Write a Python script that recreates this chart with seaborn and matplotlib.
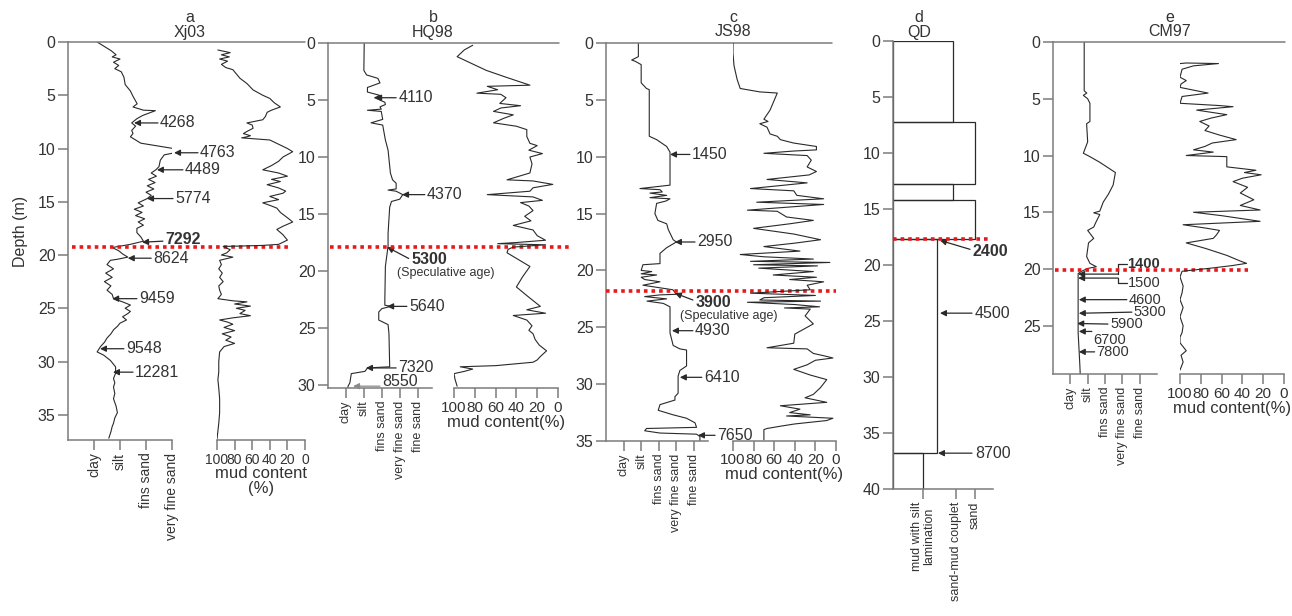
import numpy as np
import pandas as pd
import matplotlib
matplotlib.use("Agg")
import matplotlib.pyplot as plt
import seaborn as sns

# ---------------------------------------------------------------- data
# Grain-size curves: depth (m) and grain-size class position
# (1 = clay, 2 = silt, 3 = fins sand, 4 = very fine sand, 5 = fine sand)
XJ03_GRAIN_DEPTH = [0, 0.5, 0.8, 1.2, 1.4, 1.6, 1.9, 2.2, 2.5, 2.8, 3.3, 4.0, 4.6, 5.1, 5.8, 6.1,
                    6.4, 6.45, 6.9, 7.2, 7.6, 7.9, 8.3, 8.6, 8.9, 9.2, 9.5, 9.8, 10.1, 10.4, 10.6,
                    11.1, 11.7, 12.0, 12.3, 12.6, 12.9, 13.2, 13.5, 13.8, 14.1, 14.4, 14.7, 15.1,
                    15.4, 15.7, 16.0, 16.3, 16.6, 16.9, 17.2, 17.5, 17.9, 18.3, 18.7, 19.0, 19.3,
                    19.6, 19.9, 20.2, 20.4, 20.5, 20.9, 21.3, 21.7, 22.1, 22.5, 22.9, 23.3, 23.7,
                    24.1, 24.4, 24.7, 25.0, 25.3, 25.5, 25.8, 26.1, 26.4, 26.7, 27.0, 27.4, 27.8,
                    28.2, 28.6, 29.1, 29.4, 29.9, 30.5, 31.1, 31.6, 32.0, 32.4, 33.0, 33.5, 34.2,
                    34.8, 35.3, 35.8, 36.1, 36.6, 37.2]
XJ03_GRAIN_SIZE = [1.12, 1.45, 1.65, 1.85, 1.7, 2.0, 1.75, 1.95, 1.8, 2.05, 2.15, 2.2, 2.4, 2.5, 2.66,
                   2.5, 2.9, 3.36, 2.87, 2.65, 2.45, 2.6, 2.45, 2.5, 2.4, 2.6, 2.8, 3.55, 4.3, 4.1,
                   3.7, 3.55, 3.5, 3.38, 3.2, 3.4, 3.1, 3.35, 3.05, 3.3, 3.0, 3.2, 3.05, 2.7, 2.9,
                   2.55, 2.85, 2.6, 2.95, 2.7, 2.9, 2.65, 2.65, 2.8, 2.9, 2.4, 1.7, 1.95, 2.1, 2.3,
                   1.9, 1.63, 1.5, 1.75, 1.45, 1.7, 1.4, 1.65, 1.5, 1.7, 1.75, 2.1, 2.4, 2.2, 2.4,
                   2.3, 2.1, 2.25, 2.0, 1.9, 1.76, 1.65, 1.5, 1.4, 1.25, 1.12, 1.37, 1.63, 1.83,
                   1.83, 1.75, 1.8, 1.75, 1.8, 1.75, 1.85, 1.9, 1.8, 1.75, 1.7, 1.65, 1.57]
XJ03_MUD_DEPTH = [0.75, 1.0, 1.2, 1.4, 1.6, 1.8, 2.1, 2.4, 2.6, 3.0, 3.4, 3.9, 4.5, 5.0, 5.3, 5.7,
                  6.1, 6.4, 6.6, 7.0, 7.3, 7.6, 7.8, 8.1, 8.4, 8.6, 8.8, 8.9, 9.0, 9.2, 9.6, 10.0,
                  10.3, 10.8, 11.2, 11.6, 12.0, 12.3, 12.6, 12.9, 13.1, 13.4, 13.7, 14.0, 14.2,
                  14.5, 14.8, 15.1, 15.4, 15.6, 16.0, 16.5, 16.9, 17.3, 17.6, 18.1, 18.6, 19.0,
                  19.1, 19.2, 19.5, 19.8, 20.0, 20.2, 20.5, 20.9, 21.3, 21.7, 22.1, 22.5, 22.9,
                  23.3, 23.7, 24.1, 24.3, 24.4, 24.6, 24.8, 25.0, 25.2, 25.5, 25.7, 25.9, 26.1,
                  26.3, 26.5, 26.8, 27.1, 27.4, 27.7, 28.0, 28.3, 28.6, 29.1, 30.0, 31.0, 31.7,
                  32.5, 33.5, 34.8, 35.8, 37.3]
XJ03_MUD_PCT = [99, 85, 95, 86, 97, 88, 95, 90, 82, 78, 74, 66, 59, 48, 40, 35, 28, 38, 43, 45, 48,
                66, 60, 59, 66, 70, 62, 66, 72, 40, 30, 20, 14, 25, 30, 38, 48, 30, 20, 38, 28, 43,
                30, 22, 25, 40, 30, 48, 38, 32, 28, 20, 14, 25, 32, 25, 20, 30, 48, 93, 85, 89,
                95, 82, 97, 95, 98, 94, 97, 93, 98, 97, 95, 99, 82, 66, 80, 62, 78, 68, 74, 62,
                82, 97, 88, 82, 92, 80, 94, 84, 90, 80, 92, 97, 98, 98, 99, 98, 97, 97, 98, 100]

HQ98_GRAIN_DEPTH = [0, 2.4, 2.8, 3.1, 3.5, 3.9, 4.3, 4.6, 4.8, 5.2, 5.4, 5.6, 5.8, 5.9, 6.0, 6.7,
                    7.0, 7.2, 8.5, 9.4, 11.4, 12.0, 12.3, 12.8, 12.9, 13.0, 13.3, 13.7, 13.9, 14.4,
                    16.7, 17.8, 19.6, 22.5, 23.0, 23.1, 23.3, 23.6, 24.3, 24.7, 25.5, 28.4, 28.5,
                    28.8, 29.0, 29.8, 30.1, 30.25]
HQ98_GRAIN_SIZE = [2.02, 2.0, 2.15, 2.78, 2.9, 2.2, 2.2, 2.9, 2.6, 3.17, 3.2, 2.9, 2.97, 2.2, 2.97,
                   3.05, 2.4, 3.05, 3.2, 3.35, 3.48, 3.6, 3.8, 3.8, 3.35, 3.8, 4.17, 4.0, 3.54,
                   3.44, 3.35, 3.35, 3.2, 3.17, 3.17, 3.5, 3.0, 2.83, 2.83, 3.35, 3.4, 3.44, 2.2,
                   2.06, 1.3, 1.22, 1.12, 1.1]
HQ98_MUD_DEPTH = [0.2, 0.6, 1.2, 1.8, 2.4, 3.0, 3.7, 3.8, 4.1, 4.4, 4.5, 4.8, 5.3, 5.5, 5.7, 6.0,
                  6.3, 6.6, 7.0, 7.3, 7.6, 8.2, 8.8, 9.0, 9.4, 9.7, 10.0, 10.6, 11.4, 12.0, 12.1,
                  12.4, 12.7, 13.0, 13.3, 13.5, 13.8, 14.0, 14.3, 14.7, 15.2, 15.6, 16.0, 16.4,
                  16.9, 17.3, 17.5, 17.6, 17.7, 17.9, 18.1, 18.4, 19.0, 19.6, 20.5, 21.4, 22.3,
                  23.1, 23.4, 23.7, 23.9, 24.3, 24.8, 25.2, 25.5, 26.0, 26.5, 27.0, 27.5, 27.8,
                  28.0, 28.3, 28.4, 28.6, 28.8, 29.0, 29.5, 30.1]
HQ98_MUD_PCT = [82, 90, 97, 83, 69, 50, 27, 68, 58, 78, 55, 50, 56, 36, 55, 62, 43, 52, 62, 40, 30,
                30, 27, 20, 28, 15, 27, 25, 27, 49, 24, 5, 24, 27, 68, 24, 15, 36, 28, 24, 32, 26,
                43, 24, 20, 12, 40, 58, 12, 43, 48, 49, 38, 27, 34, 40, 28, 17, 30, 12, 43, 30,
                25, 28, 24, 22, 18, 11, 17, 20, 24, 60, 94, 82, 90, 100, 99, 97]

JS98_GRAIN_DEPTH = [0, 1.2, 1.5, 1.6, 1.9, 3.5, 4.0, 4.1, 8.2, 8.5, 9.1, 9.6, 12.5, 12.6, 12.8,
                    12.9, 13.1, 13.2, 13.4, 13.6, 13.7, 13.9, 14.1, 15.0, 15.6, 15.9, 16.4, 17.3,
                    17.5, 18.0, 18.5, 19.4, 19.5, 20.0, 20.1, 20.3, 20.4, 20.6, 20.8, 21.0, 21.3,
                    21.7, 22.1, 22.15, 22.3, 22.5, 22.7, 22.9, 23.2, 25.5, 26.6, 26.9, 27.0, 28.4,
                    28.8, 29.3, 30.8, 31.1, 31.4, 31.8, 32.3, 32.7, 33.0, 33.4, 33.8, 33.9, 34.1,
                    34.3, 34.4, 34.6, 35.0]
JS98_GRAIN_SIZE = [1.84, 1.84, 1.46, 1.65, 2.0, 2.0, 2.3, 2.46, 2.46, 2.88, 3.45, 3.64, 3.64, 3.07,
                   1.93, 3.07, 3.2, 2.5, 3.45, 2.5, 3.64, 3.4, 2.88, 2.78, 2.95, 3.45, 3.54, 3.82,
                   4.0, 3.45, 3.07, 3.07, 2.1, 2.0, 2.6, 2.0, 2.88, 2.0, 2.2, 3.07, 2.1, 3.8, 4.0,
                   3.07, 2.2, 3.45, 2.33, 3.26, 3.64, 3.64, 3.82, 4.2, 4.58, 4.58, 4.2, 4.1, 4.1,
                   3.92, 3.92, 3.07, 2.97, 3.82, 4.58, 5.06, 5.15, 2.3, 2.2, 3.07, 5.15, 5.34, 5.34]
JS98_MUD_DEPTH = [0, 0.9, 2.0, 3.2, 4.0, 4.3, 4.4, 5.9, 6.7, 6.9, 7.1, 7.4, 8.0, 8.2, 8.5, 8.8,
                  9.1, 9.4, 9.5, 9.7, 9.9, 10.3, 10.9, 11.3, 11.6, 12.0, 12.3, 12.8, 13.0, 13.4,
                  13.7, 14.0, 14.2, 14.7, 14.8, 15.3, 15.6, 15.9, 16.3, 16.8, 17.3, 17.6, 17.9,
                  18.3, 18.6, 18.8, 19.0, 19.2, 19.3, 19.5, 19.6, 19.8, 20.1, 20.4, 20.6, 20.8,
                  21.0, 21.3, 21.7, 22.0, 22.2, 22.4, 22.6, 22.7, 22.8, 23.0, 23.2, 23.3, 23.4,
                  24.0, 24.7, 25.0, 25.6, 26.4, 26.8, 26.9, 27.3, 27.5, 27.7, 27.9, 28.3, 28.7,
                  29.2, 29.6, 30.3, 30.9, 31.2, 31.6, 31.9, 32.2, 32.5, 32.7, 32.8, 33.0, 33.2,
                  33.5, 33.7, 33.9, 34.0, 34.9]
JS98_MUD_PCT = [100, 100, 99, 96, 93, 74, 57, 64, 70, 66, 74, 67, 64, 57, 54, 41, 19, 19, 41, 70,
                28, 24, 28, 19, 26, 67, 28, 83, 41, 38, 12, 77, 12, 86, 57, 48, 22, 45, 80, 41,
                15, 40, 70, 35, 93, 70, 22, 83, 6, 80, 18, 75, 22, 61, 19, 45, 12, 28, 25, 83,
                20, 70, 74, 15, 86, 40, 16, 50, 25, 30, 22, 28, 40, 41, 67, 28, 22, 12, 3, 20,
                28, 41, 25, 9, 15, 22, 30, 9, 54, 35, 45, 25, 48, 3, 9, 40, 54, 67, 70, 70]

CM97_GRAIN_DEPTH = [0, 4.3, 4.5, 4.7, 5.0, 5.4, 7.0, 7.2, 8.8, 9.8, 10.1, 10.6, 11.2, 11.5, 12.6,
                    13.4, 14.1, 14.9, 15.05, 15.2, 15.8, 16.3, 16.6, 17.0, 17.3, 17.7, 18.9, 19.5,
                    19.8, 19.95, 20.2, 20.4, 25.6, 28.5, 29.25]
CM97_GRAIN_SIZE = [1.8, 1.8, 1.95, 1.75, 2.0, 2.13, 2.13, 1.94, 2.0, 1.75, 2.13, 2.7, 3.3, 3.6,
                   3.47, 3.2, 2.9, 2.7, 2.35, 2.7, 2.5, 2.35, 2.0, 2.2, 2.35, 2.05, 1.94, 2.13,
                   2.5, 2.0, 1.65, 1.45, 1.45, 1.55, 1.57]
CM97_MUD_DEPTH = [1.9, 1.85, 1.9, 2.1, 2.4, 3.1, 3.4, 3.7, 4.0, 4.5, 4.8, 5.4, 5.6, 5.7, 6.0, 6.4,
                  6.7, 7.0, 7.4, 7.8, 8.2, 8.6, 8.9, 9.2, 9.5, 9.7, 10.0, 10.1, 11.0, 11.3, 11.5,
                  11.7, 12.0, 12.3, 12.8, 13.3, 13.9, 14.4, 14.8, 15.0, 15.3, 15.8, 16.1, 16.4,
                  16.6, 17.0, 17.3, 17.7, 18.2, 18.8, 19.3, 19.5, 19.7, 19.9, 20.2, 20.7, 21.5,
                  22.1, 22.7, 23.4, 24.2, 25.0, 25.6, 26.0, 26.5, 27.2, 27.6, 28.2, 28.9]
CM97_MUD_PCT = [100, 94, 63, 87, 98, 100, 94, 99, 100, 73, 98, 100, 62, 49, 84, 55, 70, 81, 72, 76,
                62, 46, 69, 76, 87, 68, 94, 55, 55, 27, 38, 22, 40, 49, 35, 42, 29, 42, 23, 87,
                60, 23, 97, 75, 62, 65, 68, 94, 75, 55, 42, 36, 50, 68, 98, 100, 97, 98, 100, 97,
                100, 97, 98, 100, 100, 94, 99, 97, 100]

# QD lithology column: layer top/base depth (m) and lithology class position
QD_TOP = [0, 7.2, 12.8, 14.2, 17.7, 36.8]
QD_BASE = [7.2, 12.8, 14.2, 17.7, 36.8, 40.0]
QD_CLASS = [60, 82, 60, 82, 44, 30]

# Dated horizons (cal yr BP) and their depths (m)
XJ03_AGES = ["4268", "4763", "4489", "5774", "7292", "8624", "9459", "9548", "12281"]
XJ03_AGE_DEPTH = [7.6, 10.4, 12.0, 14.7, 18.8, 20.3, 24.1, 28.8, 31.0]
HQ98_AGES = ["4110", "4370", "5300", "5640", "7320", "8550"]
HQ98_AGE_DEPTH = [4.8, 13.3, 17.9, 23.1, 28.5, 30.1]
JS98_AGES = ["1450", "2950", "3900", "4930", "6410", "7650"]
JS98_AGE_DEPTH = [9.8, 17.5, 22.0, 25.3, 29.4, 34.5]
QD_AGES = ["2400", "4500", "8700"]
QD_AGE_DEPTH = [17.8, 24.3, 36.8]
CM97_AGES = ["1400", "1500", "4600", "5300", "5900", "6700", "7800"]
CM97_AGE_DEPTH = [20.45, 20.8, 22.7, 23.9, 24.8, 25.5, 27.3]

# Boundary depth (m) marked in each core
BOUNDARY_DEPTH = {"a": 19.25, "b": 17.9, "c": 21.8, "d": 17.7, "e": 20.1}

GRAIN_LABELS_A = ["clay", "silt", "fins sand", "very fine sand"]
GRAIN_LABELS = ["clay", "silt", "fins sand", "very fine sand", "fine sand"]
MUD_TICKS = [100, 80, 60, 40, 20, 0]
QD_CLASS_TICKS = [30, 63, 82]
QD_CLASS_LABELS = ["mud with silt\nlamination", "sand-mud couplet", "sand"]

# ---------------------------------------------------------------- style
sns.set_theme(style="ticks")
plt.rcParams["font.family"] = ["Liberation Sans", "DejaVu Sans"]

INK = "#2a2a2a"
AXC = "#7c7c7c"
TXT = "#333333"
RED = "#e8191b"
FS = 11.5

W, H = 1292, 616
fig = plt.figure(figsize=(W / 100, H / 100), dpi=100, facecolor="white")


def px_axes(x0, y0, x1, y1):
    ax = fig.add_axes([x0 / W, 1 - y1 / H, (x1 - x0) / W, (y1 - y0) / H])
    ax.patch.set_alpha(0)
    return ax


def style(ax, left=True):
    ax.spines["top"].set_visible(False)
    ax.spines["right"].set_visible(False)
    ax.spines["left"].set_visible(left)
    for s in ax.spines.values():
        s.set_color(AXC)
        s.set_linewidth(1.1)
    ax.tick_params(axis="both", direction="out", length=7, width=1.1, color=AXC,
                   labelcolor=TXT, labelsize=FS, pad=2)
    if not left:
        ax.tick_params(axis="y", left=False, labelleft=False)
    ax.grid(False)


def curve(ax, depth, value):
    df = pd.DataFrame({"depth": depth, "value": value})
    sns.lineplot(data=df, x="value", y="depth", sort=False, estimator=None,
                 color=INK, linewidth=0.8, ax=ax)
    ax.set_xlabel("")
    ax.set_ylabel("")


def grain_axes(box, dmax, xmax, yticks, names, fs):
    ax = px_axes(*box)
    style(ax)
    ax.set_ylim(dmax, 0)
    ax.set_xlim(0, xmax)
    ax.set_yticks(yticks)
    ax.set_xticks(range(1, len(names) + 1))
    ax.set_xticklabels(names, rotation=90, va="top", ha="center", fontsize=fs)
    return ax


def mud_axes(box, dmax, fs=11):
    ax = px_axes(*box)
    style(ax, left=False)
    ax.set_ylim(dmax, 0)
    ax.set_xlim(100, 0)
    ax.set_xticks(MUD_TICKS)
    ax.set_xticklabels([str(t) for t in MUD_TICKS], fontsize=fs)
    return ax


def surface(ax, xmin, xmax):
    ax.axhline(0, xmin=xmin, xmax=xmax, color=AXC, lw=1.1, clip_on=False, zorder=3)


def boundary(ax, depth, xmin, xmax):
    ax.axhline(depth, xmin=xmin, xmax=xmax, color=RED, lw=2.6, ls=(0, (1, 1.1)),
               clip_on=False, zorder=6)


def dated(ax, text, tip, tail, text_at=None, bold=False, color=INK, fs=FS):
    ax.annotate("", xy=tip, xytext=tail, annotation_clip=False,
                arrowprops=dict(arrowstyle="-|>", color=color, lw=0.9,
                                mutation_scale=9, shrinkA=0, shrinkB=0))
    pos = text_at if text_at is not None else tail
    ax.annotate(text, xy=pos, xytext=(1.5, 0), textcoords="offset points",
                ha="left", va="center", fontsize=fs, color=TXT,
                fontweight="bold" if bold else "normal", annotation_clip=False)


def plain(ax, x, d, text, bold=False, fs=FS):
    ax.text(x, d, text, fontsize=fs, color=TXT, ha="left", va="center",
            fontweight="bold" if bold else "normal", clip_on=False)


def mud_label(ax, text):
    ax.set_xlabel(text, fontsize=12, color=TXT, labelpad=0, linespacing=1.0)


# ---------------------------------------------------------------- a  Xj03
ga = grain_axes((68, 42, 172, 440), 37.37, 4, range(0, 36, 5), GRAIN_LABELS_A, 10)
curve(ga, XJ03_GRAIN_DEPTH, XJ03_GRAIN_SIZE)
ma = mud_axes((217, 42, 305, 440), 37.37, fs=10)
curve(ma, XJ03_MUD_DEPTH, XJ03_MUD_PCT)
mud_label(ma, "mud content\n(%)")
surface(ga, 0, 2.28)
boundary(ga, BOUNDARY_DEPTH["a"], 0.04, 2.12)
a_tip = [2.54, 4.08, 3.42, 3.04, 2.85, 2.3, 1.7, 1.23, 1.73]
a_tail = [3.46, 5.0, 4.42, 4.04, 3.65, 3.2, 2.65, 2.15, 2.5]
for age, d, tx, lx in zip(XJ03_AGES, XJ03_AGE_DEPTH, a_tip, a_tail):
    if age == "7292":
        dated(ga, age, (tx, d), (lx, d - 0.1), text_at=(lx, d - 0.25), bold=True)
    else:
        dated(ga, age, (tx, d), (lx, d))

# ---------------------------------------------------------------- b  HQ98
gb = grain_axes((328, 43, 432, 388), 30.26, 5.8, range(0, 31, 5), GRAIN_LABELS, 9)
curve(gb, HQ98_GRAIN_DEPTH, HQ98_GRAIN_SIZE)
mb = mud_axes((454, 43, 558, 388), 30.26)
curve(mb, HQ98_MUD_DEPTH, HQ98_MUD_PCT)
mud_label(mb, "mud content(%)")
surface(gb, 0, 2.22)
boundary(gb, BOUNDARY_DEPTH["b"], 0.02, 2.35)
for age, d in zip(HQ98_AGES, HQ98_AGE_DEPTH):
    if age == "4110":
        dated(gb, age, (2.63, d), (3.8, d))
    elif age == "4370":
        dated(gb, age, (4.13, d), (5.4, d))
    elif age == "5300":
        dated(gb, age, (3.3, d), (4.5, d + 1.0), text_at=(4.55, d + 1.1), bold=True)
        gb.text(3.85, d + 2.3, "(Speculative age)", fontsize=9, color=TXT,
                ha="left", va="center", clip_on=False)
    elif age == "5640":
        dated(gb, age, (3.3, d), (4.4, d))
    elif age == "7320":
        dated(gb, age, (2.12, d), (3.8, d))
    elif age == "8550":
        dated(gb, "", (1.4, d), (2.9, d), color="#8a8a8a")
        plain(gb, 3.0, d - 0.45, age)

# ---------------------------------------------------------------- c  JS98
gc = grain_axes((606, 43, 708, 441), 35, 5.8, range(0, 36, 5), GRAIN_LABELS, 9)
curve(gc, JS98_GRAIN_DEPTH, JS98_GRAIN_SIZE)
mc = mud_axes((733, 43, 836, 441), 35)
curve(mc, JS98_MUD_DEPTH, JS98_MUD_PCT)
mud_label(mc, "mud content(%)")
surface(gc, 0, 2.22)
boundary(gc, BOUNDARY_DEPTH["c"], 0, 2.25)
c_tip = [3.64, 3.92, 3.92, 3.75, 4.2, 5.23]
c_tail = [4.77, 5.06, 4.94, 4.94, 5.45, 6.2]
for age, d, tx, lx in zip(JS98_AGES, JS98_AGE_DEPTH, c_tip, c_tail):
    if age == "3900":
        dated(gc, age, (tx, d), (lx, d + 0.6), text_at=(lx + 0.05, d + 0.85), bold=True)
        gc.text(4.2, d + 2.0, "(Speculative age)", fontsize=9, color=TXT,
                ha="left", va="center", clip_on=False)
    else:
        dated(gc, age, (tx, d), (lx, d))

# ---------------------------------------------------------------- d  QD
gd = px_axes(893, 41, 993, 489)
style(gd)
gd.set_ylim(40, 0)
gd.set_xlim(0, 100)
gd.set_yticks(range(0, 41, 5))
gd.set_xticks(QD_CLASS_TICKS)
gd.set_xticklabels(QD_CLASS_LABELS, rotation=90, va="top", ha="center", fontsize=9,
                   linespacing=1.0)
mids = [(t + b) / 2 for t, b in zip(QD_TOP, QD_BASE)]
thick = [b - t for t, b in zip(QD_TOP, QD_BASE)]
gd.barh(mids, QD_CLASS, height=thick, left=0, fill=False, edgecolor=INK, linewidth=0.9)
boundary(gd, BOUNDARY_DEPTH["d"], 0, 0.95)
for age, d in zip(QD_AGES, QD_AGE_DEPTH):
    if age == "2400":
        dated(gd, age, (47, d), (77, d + 0.8), text_at=(77, d + 0.95), bold=True)
    else:
        dated(gd, "", (45 if age == "8700" else 47, d), (79, d))
        plain(gd, 82, d, age)

# ---------------------------------------------------------------- e  CM97
ge = grain_axes((1053, 42, 1157, 374), 29.25, 6.0, range(0, 26, 5), GRAIN_LABELS, 9)
curve(ge, CM97_GRAIN_DEPTH, CM97_GRAIN_SIZE)
me = mud_axes((1180, 42, 1284, 374), 29.25)
curve(me, CM97_MUD_DEPTH, CM97_MUD_PCT)
mud_label(me, "mud content(%)")
surface(ge, 0, 2.23)
boundary(ge, BOUNDARY_DEPTH["e"], 0.02, 1.875)
EFS = 10.5
for age, d in zip(CM97_AGES, CM97_AGE_DEPTH):
    if age == "1400":
        ge.plot([4.25, 3.76, 3.76], [19.6, 19.6, d], color=INK, lw=0.9, clip_on=False)
        dated(ge, "", (1.45, d), (3.76, d))
        plain(ge, 4.3, 19.6, age, bold=True, fs=EFS)
    elif age == "1500":
        ge.plot([4.25, 3.76, 3.76], [21.2, 21.2, d], color=INK, lw=0.9, clip_on=False)
        dated(ge, "", (1.45, d), (3.76, d))
        plain(ge, 4.3, 21.25, age, fs=EFS)
    elif age == "4600":
        dated(ge, age, (1.49, d), (4.26, d), fs=EFS)
    elif age == "5300":
        dated(ge, age, (1.49, d), (4.55, d - 0.1), fs=EFS)
    elif age == "5900":
        dated(ge, age, (1.4, d), (3.17, d + 0.05), fs=EFS)
    elif age == "6700":
        dated(ge, "", (1.49, d), (2.24, d))
        plain(ge, 2.3, d + 0.75, age, fs=EFS)
    elif age == "7800":
        dated(ge, age, (1.49, d), (2.4, d), fs=EFS)

# ---------------------------------------------------------------- titles
for x, letter, name in [(190, "a", "Xj03"), (433, "b", "HQ98"), (733, "c", "JS98"),
                        (919, "d", "QD"), (1170, "e", "CM97")]:
    fig.text(x / W, 1 - 18 / H, letter, ha="center", va="center", fontsize=FS, color=TXT)
    fig.text(x / W, 1 - 32 / H, name, ha="center", va="center", fontsize=FS, color=TXT)
fig.text(20 / W, 1 - 231 / H, "Depth (m)", rotation=90, ha="center", va="center",
         fontsize=FS, color=TXT)

fig.savefig("out.png", dpi=100, facecolor="white")
